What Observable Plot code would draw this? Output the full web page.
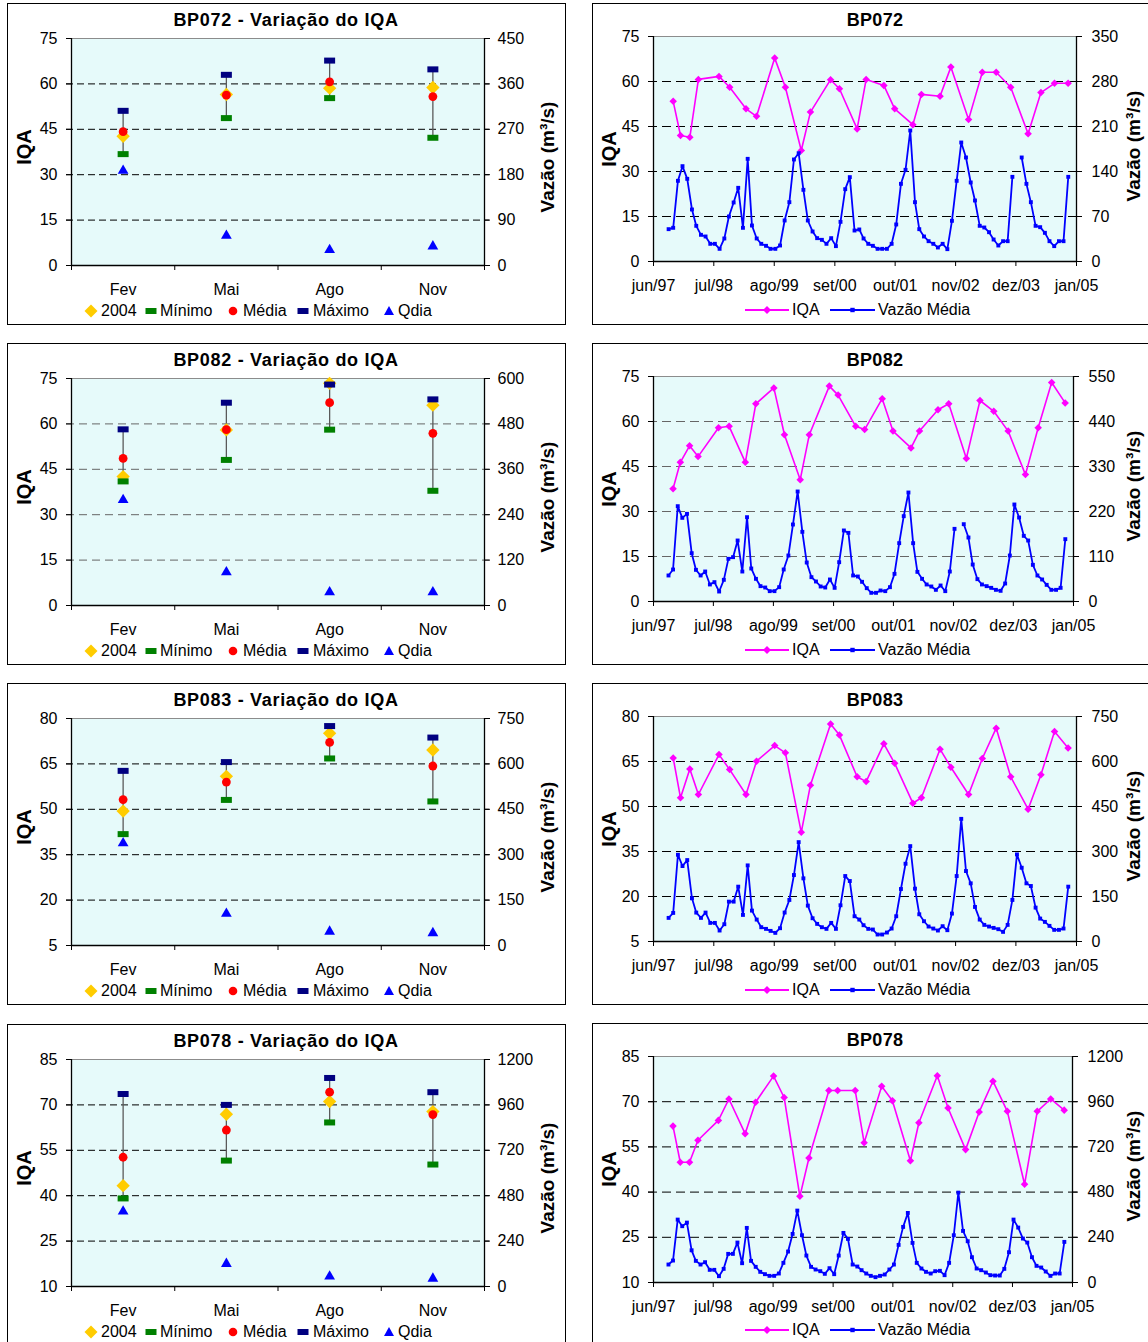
<!DOCTYPE html>
<html lang="pt">
<head>
<meta charset="utf-8">
<title>Variação do IQA</title>
<script src="https://cdn.jsdelivr.net/npm/d3@7"></script>
<script src="https://cdn.jsdelivr.net/npm/@observablehq/plot@0.6"></script>
<style>
html,body{margin:0;padding:0;background:#fff;}
body{width:1148px;height:1342px;overflow:hidden;position:relative;font-family:"Liberation Sans",Arial,sans-serif;color:#000;}
.box{position:absolute;border:1px solid #000;box-sizing:border-box;}
.t{position:absolute;white-space:nowrap;line-height:1;}
.chart{position:absolute;}
</style>
</head>
<body>
<script>
// ---------------- DATA ----------------
const months = ["Fev","Mai","Ago","Nov"];
const leftLegendLabels = ["2004","Mínimo","Média","Máximo","Qdia"];
const rightLegendLabels = ["IQA","Vazão Média"];

// Left charts (Variação do IQA)
const bp072_2004  = [42.7, 56.5, 58.6, 58.8];
const bp072_min   = [36.8, 48.7, 55.3, 42.2];
const bp072_media = [44.2, 56.3, 60.7, 55.8];
const bp072_max   = [51.1, 63.0, 67.7, 64.8];
const bp072_qdia  = [188, 59, 31, 38];

const bp082_2004  = [42.6, 58.0, 73.4, 66.2];
const bp082_min   = [41.0, 48.1, 58.1, 37.9];
const bp082_media = [48.6, 58.1, 67.0, 56.9];
const bp082_max   = [58.2, 67.0, 73.0, 68.1];
const bp082_qdia  = [279, 88, 35, 35];

const bp083_2004  = [49.4, 60.9, 75.1, 69.6];
const bp083_min   = [41.8, 53.1, 66.8, 52.6];
const bp083_media = [53.2, 59.0, 72.1, 64.3];
const bp083_max   = [62.7, 65.6, 77.5, 73.7];
const bp083_qdia  = [338, 105, 46, 41];

const bp078_2004  = [43.3, 66.9, 71.1, 67.8];
const bp078_min   = [39.1, 51.6, 64.2, 50.3];
const bp078_media = [52.7, 61.7, 74.2, 66.8];
const bp078_max   = [73.6, 70.0, 78.9, 74.2];
const bp078_qdia  = [397, 120, 53, 42];

// Axis ticks
const iqaTicks072 = [0,15,30,45,60,75];
const iqaTicks082 = [0,15,30,45,60,75];
const iqaTicks083 = [5,20,35,50,65,80];
const iqaTicks078 = [10,25,40,55,70,85];
const qTicksL072 = [0,90,180,270,360,450];
const qTicksL082 = [0,120,240,360,480,600];
const qTicksL083 = [0,150,300,450,600,750];
const qTicksL078 = [0,240,480,720,960,1200];
const qTicksR072 = [0,70,140,210,280,350];
const qTicksR082 = [0,110,220,330,440,550];
const qTicksR083 = [0,150,300,450,600,750];
const qTicksR078 = [0,240,480,720,960,1200];

const timeTickDates  = ["1997-06-01","1998-07-01","1999-08-01","2000-09-01","2001-10-01","2002-11-01","2003-12-01","2005-01-01"];
const timeTickLabels = ["jun/97","jul/98","ago/99","set/00","out/01","nov/02","dez/03","jan/05"];

// IQA sampling dates (shared by all stations)
const iqaDates = ["1997-10-08","1997-11-25","1998-01-25","1998-03-22","1998-08-04","1998-10-13","1999-01-28","1999-04-07",
  "1999-08-04","1999-10-13","2000-01-25","2000-03-25","2000-08-04","2000-10-01","2001-01-25","2001-03-25",
  "2001-07-19","2001-09-28","2002-01-25","2002-03-22","2002-07-22","2002-10-01","2003-01-25","2003-04-25",
  "2003-07-25","2003-10-28","2004-02-19","2004-05-13","2004-08-10","2004-11-07"];

const iqa072 = [53.4,42.0,41.4,60.7,61.7,58.1,50.9,48.4,67.8,58.1,37.0,49.8,60.6,57.6,44.2,60.7,58.7,50.9,45.6,55.7,55.1,64.8,47.3,63.1,63.1,58.1,42.6,56.3,59.4,59.4];
const iqa082 = [37.6,46.4,51.9,48.3,57.9,58.4,46.4,65.9,71.2,55.6,40.6,55.6,71.8,68.8,58.4,57.3,67.6,56.8,51.2,56.8,63.9,65.9,47.7,67.0,63.4,56.8,42.3,57.9,73.0,66.2];
const iqa083 = [66.2,52.9,62.5,54.0,67.3,62.3,54.0,65.1,70.3,67.9,41.4,57.1,77.5,73.8,59.9,58.3,70.9,64.4,51.1,52.9,69.1,63.1,54.0,66.0,76.1,59.9,49.1,60.6,75.0,69.5];
const iqa078 = [61.9,49.9,49.9,57.2,63.8,70.9,59.4,69.8,78.5,71.4,38.6,51.3,73.7,73.7,73.7,56.4,75.1,70.3,50.4,63.0,78.6,67.9,54.1,66.6,76.8,66.8,42.6,66.8,70.9,67.2];

// Monthly mean discharge (m3/s), first month = vazaoStart, null = missing
const vazaoStart = "1997-09-08";
const vazao072 = [50.3,52.4,125.5,148.3,128.6,80.9,55.5,41.5,38.9,27.5,
  27.5,19.7,35.8,70.0,91.8,114.6,52.4,159.7,56.0,35.8,
  27.5,24.4,19.7,19.7,24.9,63.8,92.3,158.7,168.5,111.5,
  63.8,46.7,36.3,33.7,27.5,36.3,23.9,61.7,112.5,131.2,
  48.2,49.8,35.8,27.5,24.4,19.7,19.7,19.7,27.5,57.6,
  120.8,142.6,203.8,92.3,50.3,38.9,31.6,27.5,21.8,27.5,
  19.2,63.3,125.5,185.1,161.8,122.9,94.9,55.5,52.9,45.6,
  34.2,24.9,31.6,31.6,131.7,null,161.8,120.8,92.3,55.5,
  53.4,44.6,31.6,23.9,31.6,31.6,131.7];
const vazao082 = [63.6,78.2,233.0,204.5,214.3,118.1,77.4,63.6,73.3,41.6,
  47.3,24.4,53.0,104.3,108.4,149.1,73.3,206.1,80.7,55.4,
  37.5,34.2,25.3,25.3,35.0,78.2,112.4,188.2,268.9,170.3,
  95.3,59.5,48.9,36.7,34.2,53.8,33.4,96.1,173.6,167.8,
  63.6,61.1,48.1,32.6,21.2,21.2,26.9,25.3,35.0,67.6,
  142.6,208.6,266.4,142.6,72.5,55.4,41.6,36.7,28.5,39.1,
  25.3,73.3,177.6,null,189.0,156.4,90.4,54.6,41.6,37.5,
  33.4,28.5,26.1,44.0,112.4,237.1,205.3,160.5,149.1,89.6,
  63.6,53.8,40.7,28.5,28.5,33.4,152.4];
const vazao083 = [78.7,95.3,289.1,251.5,271.4,144.0,96.4,78.7,96.4,62.0,
  62.0,36.6,57.6,132.9,132.9,182.8,88.6,253.7,103.0,73.1,
  47.6,42.1,35.4,28.8,44.3,96.4,138.5,221.6,331.2,210.5,
  119.6,77.5,58.7,47.6,42.1,62.0,42.1,120.7,218.2,201.6,
  84.2,73.1,54.3,42.1,39.9,23.3,23.3,29.9,43.2,84.2,
  175.0,259.2,317.9,176.1,90.8,67.6,49.9,43.2,36.6,51.0,
  37.7,93.1,218.2,408.8,234.9,193.9,115.2,73.1,55.4,49.9,
  45.4,41.0,32.1,55.4,138.5,290.2,245.9,193.9,185.0,113.0,
  76.4,65.4,52.1,38.8,38.8,43.2,182.8];
const vazao078 = [95.4,116.6,334.0,299.0,318.0,171.0,114.9,95.4,107.8,67.2,
  67.2,33.6,72.5,152.0,152.0,212.1,102.5,289.9,114.9,83.1,
  56.6,44.2,35.3,35.3,47.7,104.3,164.4,258.0,381.8,251.0,
  143.2,83.1,68.9,60.1,46.0,76.0,44.2,143.2,263.3,231.5,
  95.4,84.8,65.4,47.7,35.3,28.3,35.3,42.4,69.0,95.4,
  199.7,295.2,369.4,210.3,104.3,74.2,56.6,47.7,60.0,62.0,
  38.9,104.3,251.0,477.2,273.9,219.2,134.3,74.2,65.4,53.0,
  38.9,37.1,37.1,72.5,160.8,334.0,291.6,233.3,212.1,134.3,
  88.4,79.5,58.3,35.3,47.7,47.7,215.6];

// ---------------- RENDER ----------------
const FONT = '"Liberation Sans", Arial, Helvetica, sans-serif';
const BG = "#E6FAFA";
const body = document.body;

function el(tag, css, text) {
  const e = document.createElement(tag);
  e.style.cssText = css;
  if (text != null) e.textContent = text;
  body.appendChild(e);
  return e;
}
function centerText(text, cx, cy, css) {
  return el("div", `left:${cx}px;top:${cy}px;transform:translate(-50%,-50%);${css}`, text).classList.add("t");
}
function rotText(text, cx, cy, css) {
  const e = el("div", `left:${cx}px;top:${cy}px;transform:translate(-50%,-50%) rotate(-90deg);${css}`, text);
  e.classList.add("t");
}
function marker(kind, color, cx, cy) {
  let inner = "";
  if (kind === "diamond") inner = `<path d="M7,0.5L13.5,7L7,13.5L0.5,7Z" fill="${color}"/>`;
  if (kind === "dash") inner = `<rect x="1.5" y="4" width="11" height="6" fill="${color}"/>`;
  if (kind === "circle") inner = `<circle cx="7" cy="7" r="4.3" fill="${color}"/>`;
  if (kind === "triangle") inner = `<path d="M7,2L12,11L2,11Z" fill="${color}"/>`;
  const e = el("div", `position:absolute;left:${cx - 7}px;top:${cy - 7}px;width:14px;height:14px;`);
  e.innerHTML = `<svg width="14" height="14">${inner}</svg>`;
}
function lineMarker(kind, color, x1, x2, cy) {
  const w = x2 - x1, m = w / 2;
  const mk = kind === "diamond"
    ? `<path d="M${m},${7 - 4}L${m + 4},7L${m},${7 + 4}L${m - 4},7Z" fill="${color}"/>`
    : `<rect x="${m - 2.2}" y="4.8" width="4.4" height="4.4" fill="${color}"/>`;
  const e = el("div", `position:absolute;left:${x1}px;top:${cy - 7}px;width:${w}px;height:14px;`);
  e.innerHTML = `<svg width="${w}" height="14"><line x1="0" y1="7" x2="${w}" y2="7" stroke="${color}" stroke-width="1.8"/>${mk}</svg>`;
}

const dashSym = {draw(ctx) { ctx.rect(-5.5, -3, 11, 6); }};

function axisMap(iqaTicks, qTicks) {
  const m = new Map(iqaTicks.map((t, i) => [t, String(qTicks[i])]));
  return d => m.get(d);
}

function leftChart(c) {
  const lo = c.ticks[0], hi = c.ticks[c.ticks.length - 1];
  const qMax = c.qTicks[c.qTicks.length - 1];
  const q2y = q => lo + q / qMax * (hi - lo);
  const rows = months.map((m, i) => ({
    x: i + 0.5, a: c.v2004[i], mn: c.min[i], md: c.media[i], mx: c.max[i], q: q2y(c.qdia[i])
  }));
  const svg = Plot.plot({
    width: 570, height: 300,
    marginLeft: 71, marginRight: 86, marginTop: 38, marginBottom: 35,
    style: {fontFamily: FONT, fontSize: "16px", color: "#000", background: "transparent", overflow: "visible"},
    x: {domain: [0, 4], axis: null},
    y: {domain: [lo, hi], axis: null},
    marks: [
      Plot.frame({fill: BG, stroke: "#8c8c8c"}),
      Plot.ruleY(c.ticks.slice(1, -1), {stroke: c.dash, strokeDasharray: c.dashArray, insetLeft: -5, insetRight: -5}),
      Plot.axisY({ticks: c.ticks, anchor: "left", tickSize: 5, tickPadding: 9, label: null, tickFormat: d => String(d)}),
      Plot.axisY({ticks: c.ticks, anchor: "right", tickSize: 5, tickPadding: 8, label: null, tickFormat: axisMap(c.ticks, c.qTicks)}),
      Plot.axisX({ticks: [0, 1, 2, 3, 4], tickSize: 5, tickFormat: () => "", label: null}),
      Plot.axisX({ticks: [0.5, 1.5, 2.5, 3.5], tickSize: 0, tickPadding: 18, label: null, tickFormat: d => months[Math.floor(d)]}),
      Plot.ruleX([0, 4], {stroke: "#000", strokeWidth: 1.3}),
      Plot.ruleY([lo], {stroke: "#000", strokeWidth: 1.3}),
      Plot.ruleX(rows, {x: "x", y1: "mn", y2: "mx", stroke: "#5a5a5a", strokeWidth: 1.3}),
      Plot.dot(rows, {x: "x", y: "a", symbol: "diamond2", r: 6, fill: "#FFCC00", stroke: "none"}),
      Plot.dot(rows, {x: "x", y: "mn", symbol: dashSym, r: 4, fill: "#008000", stroke: "none"}),
      Plot.dot(rows, {x: "x", y: "md", r: 4.4, fill: "#FF0000", stroke: "none"}),
      Plot.dot(rows, {x: "x", y: "mx", symbol: dashSym, r: 4, fill: "#000080", stroke: "none"}),
      Plot.dot(rows, {x: "x", y: "q", symbol: "triangle", r: 4, fill: "#0000FF", stroke: "none"})
    ]
  });
  const top = c.y0;
  el("div", `left:7px;top:${top + 3}px;width:559px;height:${c.boxH}px;`).className = "box";
  const wrap = el("div", `left:0px;top:${top}px;width:570px;height:300px;`);
  wrap.className = "chart";
  wrap.appendChild(svg);
  centerText(c.title, 286, top + 20, "font-size:18px;font-weight:bold;letter-spacing:0.7px;");
  rotText("IQA", 24, top + 147, "font-size:20px;font-weight:bold;");
  rotText("Vazão (m³/s)", 547, top + 157, "font-size:19px;font-weight:bold;");
  const ly = top + 311;
  const kinds = [["diamond", "#FFCC00", 91, 101], ["dash", "#008000", 151, 160], ["circle", "#FF0000", 233, 243], ["dash", "#000080", 303, 313], ["triangle", "#0000FF", 389, 398]];
  kinds.forEach(([k, col, cx, tx], i) => {
    marker(k, col, cx, ly);
    el("div", `left:${tx}px;top:${ly}px;transform:translateY(-50%);font-size:16px;`, leftLegendLabels[i]).classList.add("t");
  });
}

function rightChart(c) {
  const lo = c.ticks[0], hi = c.ticks[c.ticks.length - 1];
  const qMax = c.qTicks[c.qTicks.length - 1];
  const q2y = q => lo + q / qMax * (hi - lo);
  const tDates = timeTickDates.map(d => new Date(d));
  const tMap = new Map(tDates.map((d, i) => [+d, timeTickLabels[i]]));
  const start = new Date(vazaoStart);
  const iqa = iqaDates.map((d, i) => ({date: new Date(d), v: c.iqa[i]}));
  const vz = c.vazao.map((v, i) => ({date: d3.utcMonth.offset(start, i), v: v == null ? NaN : q2y(v)}));
  const svg = Plot.plot({
    width: 563, height: 300,
    marginLeft: 68, marginRight: c.mr, marginTop: 36, marginBottom: c.mb,
    style: {fontFamily: FONT, fontSize: "16px", color: "#000", background: "transparent", overflow: "visible"},
    x: {type: "utc", domain: [tDates[0], tDates[tDates.length - 1]], axis: null},
    y: {domain: [lo, hi], axis: null},
    marks: [
      Plot.frame({fill: BG, stroke: "#8c8c8c"}),
      Plot.ruleY(c.ticks.slice(1, -1), {stroke: c.dash, strokeDasharray: c.dashArray, insetLeft: -5, insetRight: -5}),
      Plot.axisY({ticks: c.ticks, anchor: "left", tickSize: 5, tickPadding: 9, label: null, tickFormat: d => String(d)}),
      Plot.axisY({ticks: c.ticks, anchor: "right", tickSize: 5, tickPadding: 10, label: null, tickFormat: axisMap(c.ticks, c.qTicks)}),
      Plot.axisX({ticks: tDates, tickSize: 5, tickPadding: 13, label: null, tickFormat: d => tMap.get(+d)}),
      Plot.ruleX([tDates[0], tDates[tDates.length - 1]], {stroke: "#000", strokeWidth: 1.3}),
      Plot.ruleY([lo], {stroke: "#000", strokeWidth: 1.3}),
      Plot.line(iqa, {x: "date", y: "v", stroke: "#FF00FF", strokeWidth: 1.6}),
      Plot.dot(iqa, {x: "date", y: "v", symbol: "diamond2", r: 3.4, fill: "#FF00FF", stroke: "none"}),
      Plot.line(vz, {x: "date", y: "v", stroke: "#0000FF", strokeWidth: 1.8}),
      Plot.dot(vz, {x: "date", y: "v", symbol: "square", r: 2.2, fill: "#0000FF", stroke: "none"})
    ]
  });
  const top = c.y0;
  el("div", `left:592px;top:${top + 3}px;width:600px;height:${c.boxH}px;`).className = "box";
  const wrap = el("div", `left:585px;top:${top}px;width:563px;height:300px;`);
  wrap.className = "chart";
  wrap.appendChild(svg);
  centerText(c.title, 875, top + 20, "font-size:18px;font-weight:bold;letter-spacing:0.3px;");
  rotText("IQA", 609, top + 149, "font-size:20px;font-weight:bold;");
  rotText("Vazão (m³/s)", 1133, top + 146, "font-size:19px;font-weight:bold;");
  const ly = top + 310;
  lineMarker("diamond", "#FF00FF", 745, 789, ly);
  el("div", `left:792px;top:${ly}px;transform:translateY(-50%);font-size:16px;`, rightLegendLabels[0]).classList.add("t");
  lineMarker("square", "#0000FF", 830, 875, ly);
  el("div", `left:878px;top:${ly}px;transform:translateY(-50%);font-size:16px;`, rightLegendLabels[1]).classList.add("t");
}

leftChart({title: "BP072 - Variação do IQA", y0: 0, boxH: 322, ticks: iqaTicks072, qTicks: qTicksL072,
  v2004: bp072_2004, min: bp072_min, media: bp072_media, max: bp072_max, qdia: bp072_qdia, dash: "#000", dashArray: "7,4"});
leftChart({title: "BP082 - Variação do IQA", y0: 340, boxH: 322, ticks: iqaTicks082, qTicks: qTicksL082,
  v2004: bp082_2004, min: bp082_min, media: bp082_media, max: bp082_max, qdia: bp082_qdia, dash: "#666", dashArray: "8,5"});
leftChart({title: "BP083 - Variação do IQA", y0: 680, boxH: 322, ticks: iqaTicks083, qTicks: qTicksL083,
  v2004: bp083_2004, min: bp083_min, media: bp083_media, max: bp083_max, qdia: bp083_qdia, dash: "#000", dashArray: "7,4"});
leftChart({title: "BP078 - Variação do IQA", y0: 1021, boxH: 340, ticks: iqaTicks078, qTicks: qTicksL078,
  v2004: bp078_2004, min: bp078_min, media: bp078_media, max: bp078_max, qdia: bp078_qdia, dash: "#000", dashArray: "7,4"});

rightChart({title: "BP072", y0: 0, boxH: 322, mr: 72, mb: 39, ticks: iqaTicks072, qTicks: qTicksR072, iqa: iqa072, vazao: vazao072, dash: "#000", dashArray: "9,5"});
rightChart({title: "BP082", y0: 340, boxH: 322, mr: 75, mb: 39, ticks: iqaTicks082, qTicks: qTicksR082, iqa: iqa082, vazao: vazao082, dash: "#666", dashArray: "9,5"});
rightChart({title: "BP083", y0: 680, boxH: 322, mr: 72, mb: 39, ticks: iqaTicks083, qTicks: qTicksR083, iqa: iqa083, vazao: vazao083, dash: "#000", dashArray: "9,5"});
rightChart({title: "BP078", y0: 1020, boxH: 340, mr: 76, mb: 38, ticks: iqaTicks078, qTicks: qTicksR078, iqa: iqa078, vazao: vazao078, dash: "#000", dashArray: "9,5"});
</script>
</body>
</html>
